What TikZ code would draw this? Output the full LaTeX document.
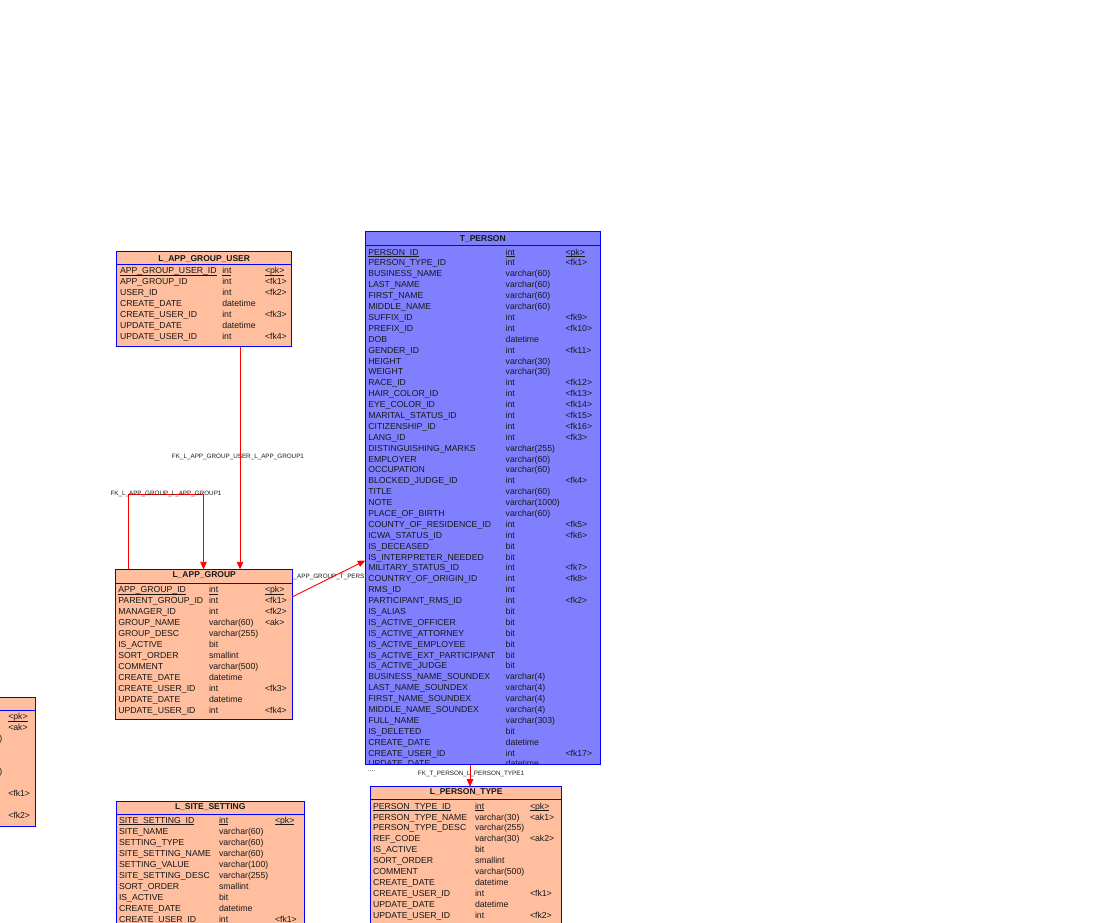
\documentclass[tikz,border=0pt]{standalone}
\usepackage{fontspec}
\setmainfont{Liberation Sans}
\usetikzlibrary{arrows.meta}

\definecolor{salmon}{RGB}{255,191,159}
\definecolor{personblue}{RGB}{128,128,255}
\definecolor{edgeblue}{RGB}{0,0,255}
\definecolor{fkred}{RGB}{255,0,0}
\definecolor{ink}{RGB}{24,24,24}

\newcommand\colfont{\fontsize{8.7}{10}\selectfont}
\newcommand\headfont{\fontsize{8.5}{10}\selectfont\bfseries}
\newcommand\linkfont{\fontsize{6.3}{7}\selectfont}

\tikzset{
  tablebox/.style={draw=edgeblue, line width=0.9pt, inner sep=0pt, outer sep=0pt, anchor=north west},
  cell/.style={anchor=base west, inner sep=0pt, outer sep=0pt, font=\colfont, text=ink},
  heading/.style={anchor=base, inner sep=0pt, font=\headfont, text=ink},
  linklabel/.style={anchor=base, inner sep=0pt, font=\linkfont, text=ink},
  fk/.style={draw=fkred, line width=0.9pt, -{Triangle[length=7.5pt,width=6.5pt]}},
  sepline/.style={draw=edgeblue, line width=0.9pt},
  pkline/.style={draw=ink, line width=0.5pt},
}

% rows of a table: #1 prefix, #2 name x, #3 type x, #4 key x,
% #5 centre y of first row, #6 row pitch, #7 list name/type/key
\newcommand\tablerows[7]{%
  \foreach \n/\t/\k [count=\i from 0] in {#7} {%
    \pgfmathsetmacro\yb{#5+\i*#6+3.1}
    \node[cell] (#1-n\i) at (#2,\yb) {\n};
    \node[cell] (#1-t\i) at (#3,\yb) {\t};
    \node[cell] (#1-k\i) at (#4,\yb) {\k};
  }%
  \foreach \c in {n,t,k}{%
    \draw[pkline] ([yshift=-1.6pt]#1-\c0.base west) -- ([yshift=-1.6pt]#1-\c0.base east);
  }%
}

\begin{document}
\begin{tikzpicture}[x=1pt, y=-1pt]
\useasboundingbox (0,0) rectangle (1119,923);
\clip (0,0) rectangle (1119,923);
\fill[white] (0,0) rectangle (1119,923);

% ---------- connector labels (under the tables) ----------
\node[linklabel] (lbl1) at (238,458.2) {FK\_L\_APP\_GROUP\_USER\_L\_APP\_GROUP1};
\node[linklabel, anchor=base west] (lbl3) at (293.5,578.3) {\_APP\_GROUP\_T\_PERS};
\node[linklabel] (lbl4) at (471,775.5) {FK\_T\_PERSON\_L\_PERSON\_TYPE1};

% ---------- tables ----------
\node[tablebox, fill=salmon, minimum width=175pt, minimum height=95pt] (lagu) at (116.7,251.7) {};
\node[tablebox, fill=salmon, minimum width=177pt, minimum height=149.7pt] (lag) at (115.7,569.3) {};
\node[tablebox, fill=personblue, minimum width=235pt, minimum height=532.8pt] (tp) at (365.3,231.7) {};
\node[tablebox, fill=salmon, minimum width=191pt, minimum height=160pt] (lpt) at (370.7,786.7) {};
\node[tablebox, fill=salmon, minimum width=188.3pt, minimum height=150pt] (lss) at (116,801) {};
\node[tablebox, fill=salmon, minimum width=135pt, minimum height=128.7pt] (lx) at (-100,697.3) {};

% title separators
\draw[sepline] (lagu.west |- 0,264.3) -- (lagu.east |- 0,264.3);
\draw[sepline] (lag.west |- 0,583.5) -- (lag.east |- 0,583.5);
\draw[sepline] (tp.west |- 0,245.5) -- (tp.east |- 0,245.5);
\draw[sepline] (lpt.west |- 0,799.3) -- (lpt.east |- 0,799.3);
\draw[sepline] (lss.west |- 0,814) -- (lss.east |- 0,814);
\draw[sepline] (lx.west |- 0,710) -- (lx.east |- 0,710);

% titles
\node[heading] (lagu-title) at (204.2,261.1) {L\_APP\_GROUP\_USER};
\node[heading] (lag-title) at (204.2,577.2) {L\_APP\_GROUP};
\node[heading] (tp-title) at (482.8,241) {T\_PERSON};
\node[heading] (lpt-title) at (466.2,794.8) {L\_PERSON\_TYPE};
\node[heading] (lss-title) at (210.2,809.3) {L\_SITE\_SETTING};

% ---------- L_APP_GROUP_USER ----------
\tablerows{lagu}{120}{222.3}{265}{270.7}{10.9}{%
  APP\_GROUP\_USER\_ID/int/<pk>,
  APP\_GROUP\_ID/int/<fk1>,
  USER\_ID/int/<fk2>,
  CREATE\_DATE/datetime/{},
  CREATE\_USER\_ID/int/<fk3>,
  UPDATE\_DATE/datetime/{},
  UPDATE\_USER\_ID/int/<fk4>}

% ---------- L_APP_GROUP ----------
\tablerows{lag}{118.3}{209}{265}{589.3}{11.0}{%
  APP\_GROUP\_ID/int/<pk>,
  PARENT\_GROUP\_ID/int/<fk1>,
  MANAGER\_ID/int/<fk2>,
  GROUP\_NAME/varchar(60)/<ak>,
  GROUP\_DESC/varchar(255)/{},
  IS\_ACTIVE/bit/{},
  SORT\_ORDER/smallint/{},
  COMMENT/varchar(500)/{},
  CREATE\_DATE/datetime/{},
  CREATE\_USER\_ID/int/<fk3>,
  UPDATE\_DATE/datetime/{},
  UPDATE\_USER\_ID/int/<fk4>}

% ---------- T_PERSON (last row cut by the frame) ----------
\begin{scope}
\clip (tp.north west) rectangle (tp.south east);
\tablerows{tp}{368.3}{505.7}{565.5}{252}{10.89}{%
  PERSON\_ID/int/<pk>,
  PERSON\_TYPE\_ID/int/<fk1>,
  BUSINESS\_NAME/varchar(60)/{},
  LAST\_NAME/varchar(60)/{},
  FIRST\_NAME/varchar(60)/{},
  MIDDLE\_NAME/varchar(60)/{},
  SUFFIX\_ID/int/<fk9>,
  PREFIX\_ID/int/<fk10>,
  DOB/datetime/{},
  GENDER\_ID/int/<fk11>,
  HEIGHT/varchar(30)/{},
  WEIGHT/varchar(30)/{},
  RACE\_ID/int/<fk12>,
  HAIR\_COLOR\_ID/int/<fk13>,
  EYE\_COLOR\_ID/int/<fk14>,
  MARITAL\_STATUS\_ID/int/<fk15>,
  CITIZENSHIP\_ID/int/<fk16>,
  LANG\_ID/int/<fk3>,
  DISTINGUISHING\_MARKS/varchar(255)/{},
  EMPLOYER/varchar(60)/{},
  OCCUPATION/varchar(60)/{},
  BLOCKED\_JUDGE\_ID/int/<fk4>,
  TITLE/varchar(60)/{},
  NOTE/varchar(1000)/{},
  PLACE\_OF\_BIRTH/varchar(60)/{},
  COUNTY\_OF\_RESIDENCE\_ID/int/<fk5>,
  ICWA\_STATUS\_ID/int/<fk6>,
  IS\_DECEASED/bit/{},
  IS\_INTERPRETER\_NEEDED/bit/{},
  MILITARY\_STATUS\_ID/int/<fk7>,
  COUNTRY\_OF\_ORIGIN\_ID/int/<fk8>,
  RMS\_ID/int/{},
  PARTICIPANT\_RMS\_ID/int/<fk2>,
  IS\_ALIAS/bit/{},
  IS\_ACTIVE\_OFFICER/bit/{},
  IS\_ACTIVE\_ATTORNEY/bit/{},
  IS\_ACTIVE\_EMPLOYEE/bit/{},
  IS\_ACTIVE\_EXT\_PARTICIPANT/bit/{},
  IS\_ACTIVE\_JUDGE/bit/{},
  BUSINESS\_NAME\_SOUNDEX/varchar(4)/{},
  LAST\_NAME\_SOUNDEX/varchar(4)/{},
  FIRST\_NAME\_SOUNDEX/varchar(4)/{},
  MIDDLE\_NAME\_SOUNDEX/varchar(4)/{},
  FULL\_NAME/varchar(303)/{},
  IS\_DELETED/bit/{},
  CREATE\_DATE/datetime/{},
  CREATE\_USER\_ID/int/<fk17>,
  UPDATE\_DATE/datetime/{}}
\end{scope}
\draw[draw=edgeblue, line width=0.9pt] (tp.north west) rectangle (tp.south east);

% ---------- L_PERSON_TYPE ----------
\tablerows{lpt}{373}{475}{530}{806}{10.9}{%
  PERSON\_TYPE\_ID/int/<pk>,
  PERSON\_TYPE\_NAME/varchar(30)/<ak1>,
  PERSON\_TYPE\_DESC/varchar(255)/{},
  REF\_CODE/varchar(30)/<ak2>,
  IS\_ACTIVE/bit/{},
  SORT\_ORDER/smallint/{},
  COMMENT/varchar(500)/{},
  CREATE\_DATE/datetime/{},
  CREATE\_USER\_ID/int/<fk1>,
  UPDATE\_DATE/datetime/{},
  UPDATE\_USER\_ID/int/<fk2>}

% ---------- L_SITE_SETTING ----------
\tablerows{lss}{119}{219}{275}{820}{11.0}{%
  SITE\_SETTING\_ID/int/<pk>,
  SITE\_NAME/varchar(60)/{},
  SETTING\_TYPE/varchar(60)/{},
  SITE\_SETTING\_NAME/varchar(60)/{},
  SETTING\_VALUE/varchar(100)/{},
  SITE\_SETTING\_DESC/varchar(255)/{},
  SORT\_ORDER/smallint/{},
  IS\_ACTIVE/bit/{},
  CREATE\_DATE/datetime/{},
  CREATE\_USER\_ID/int/<fk1>}

% ---------- table cut by the left edge: only its key column shows ----------
\node[cell] (lx-k0) at (8.3,719.8) {<pk>};
\draw[pkline] ([yshift=-1.6pt]lx-k0.base west) -- ([yshift=-1.6pt]lx-k0.base east);
\node[cell] (lx-k1) at (8.3,730.8) {<ak>};
\node[cell, anchor=base east] (lx-t2) at (2.2,741.8) {)};
\node[cell, anchor=base east] (lx-t5) at (2.2,774.8) {)};
\node[cell] (lx-k7) at (8.3,796.8) {<fk1>};
\node[cell] (lx-k9) at (8.3,818.8) {<fk2>};

% ---------- references ----------
\draw[fk] (lagu.south -| 240,0) -- (lag.north -| 240,0);
\draw[fk] (lag.north -| 128.5,0) -- ++(0,-75) -| (lag.north -| 203.5,0);
\node[linklabel] (lbl2) at (166,495.2) {FK\_L\_APP\_GROUP\_L\_APP\_GROUP1};
\draw[fk] (lag.east |- 0,596.7) -- (tp.west |- 0,560.5);
\draw[fk] (tp.south -| 470,0) -- (lpt.north -| 470,0);

% small marker below T_PERSON
\draw[gray!70, line width=0.6pt, dash pattern=on 1pt off 1pt] (368,770.7) -- (375,770.7);
\end{tikzpicture}
\end{document}
